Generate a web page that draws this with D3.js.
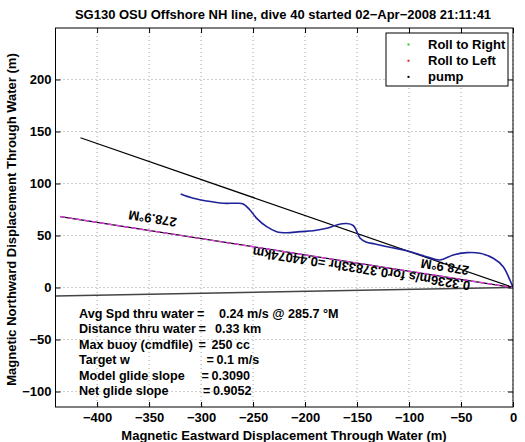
<!DOCTYPE html>
<html><head><meta charset="utf-8">
<script src="https://cdn.jsdelivr.net/npm/d3@7"></script>
<style>
html,body{margin:0;padding:0;background:#fff;}
text{font-family:"Liberation Sans",Arial,Helvetica,sans-serif;font-weight:bold;}
</style></head>
<body><svg id="c" width="525" height="442"></svg>
<script>
// ---- data ----
const titleText = "SG130 OSU Offshore NH line, dive 40 started 02−Apr−2008 21:11:41";
const xLabel = "Magnetic Eastward Displacement Through Water (m)";
const yLabel = "Magnetic Northward Displacement Through Water (m)";
const xTicks = [-400, -350, -300, -250, -200, -150, -100, -50, 0];
const yTicks = [-100, -50, 0, 50, 100, 150, 200];
const xDomain = [-440, 0];
const yDomain = [-114.9, 249.5];

// glider track (east, north) in metres
const trackEast  = [-319.6,-307.5,-294.6,-278.7,-265.8,-259.4,-253.0,-246.5,-236.9,-227.3,-217.7,-204.9,-192.1,-179.2,-169.6,-160.0,-153.7,-150.4,-147.2,-141.4,-132.8,-118.4,-102.3,-83.1,-70.3,-57.5,-44.6,-31.8,-19.0,-9.4,-3.0,0];
const trackNorth = [89.9,85.8,83.2,81.0,81.0,80.3,74.5,66.5,58.5,53.7,52.7,53.7,54.6,56.9,60.1,61.5,59.6,54.3,47.6,43.8,41.8,38.7,35.4,29.6,26.4,31.3,33.5,32.9,28.1,20.0,7.2,0];

const blackLineEast = [-416, 0],   blackLineNorth = [144, 0];
const netLineEast   = [-435.4, 0], netLineNorth   = [68.2, 0];
const curLineEast   = [-440, 0],   curLineNorth   = [-8.2, 0];

const legendLabels = ["Roll to Right", "Roll to Left", "pump"];
const legendColors = ["#22cc22", "#dd2222", "#000000"];

const lineLabels = ["278.9°M", "278.9°M", "0.3236m/s for0.37833hr =0.44074km"];
const lineLabelEast  = [-346.7, -65.5, -145.8];
const lineLabelNorth = [66.2, 19.7, 17.8];
const lineLabelRot = 188.9;

const statLabels = ["Avg Spd thru water", "Distance thru water", "Max buoy (cmdfile)", "Target w", "Model glide slope", "Net glide slope"];
const statValues = ["0.24 m/s @ 285.7 °M", "0.33 km", "250 cc", "0.1 m/s", "0.3090", "0.9052"];

// ---- drawing ----
const FS = 13;
const svg = d3.select("#c");
const L = 55.5, R = 513, T = 28, B = 407;
const x = d3.scaleLinear().domain(xDomain).range([L, R]);
const y = d3.scaleLinear().domain(yDomain).range([B, T]);

// grid
const g = svg.append("g");
g.selectAll(".gx").data(xTicks).enter().append("line")
  .attr("x1", d => x(d)).attr("x2", d => x(d)).attr("y1", T).attr("y2", B)
  .attr("stroke", "#888").attr("stroke-width", 0.8).attr("stroke-dasharray", "1,3");
g.selectAll(".gy").data(yTicks).enter().append("line")
  .attr("y1", d => y(d)).attr("y2", d => y(d)).attr("x1", L).attr("x2", R)
  .attr("stroke", "#888").attr("stroke-width", 0.8).attr("stroke-dasharray", "1,3");

// axes with inner ticks
const fmt = d => d3.format("")(d).replace("-", "−");
const axB = d3.axisBottom(x).tickValues(xTicks).tickSizeInner(-5).tickSizeOuter(0).tickPadding(6).tickFormat(fmt);
const axL = d3.axisLeft(y).tickValues(yTicks).tickSizeInner(-5).tickSizeOuter(0).tickPadding(4).tickFormat(fmt);
const axT = d3.axisTop(x).tickValues(xTicks).tickSizeInner(-5).tickSizeOuter(0).tickFormat("");
const axR = d3.axisRight(y).tickValues(yTicks).tickSizeInner(-5).tickSizeOuter(0).tickFormat("");
function style(sel){
  sel.select(".domain").remove();
  sel.selectAll("line").attr("stroke", "#000");
  sel.selectAll("text").attr("font-size", FS).attr("font-weight", "bold").attr("fill", "#000")
     .attr("font-family", "Liberation Sans, Arial, sans-serif");
}
svg.append("g").attr("transform", `translate(0,${B})`).call(axB).call(style);
svg.append("g").attr("transform", `translate(${L},0)`).call(axL).call(style);
svg.append("g").attr("transform", `translate(0,${T})`).call(axT).call(style);
svg.append("g").attr("transform", `translate(${R},0)`).call(axR).call(style);

// clip
svg.append("clipPath").attr("id", "clip").append("rect").attr("x", L).attr("y", T).attr("width", R - L).attr("height", B - T);
const plot = svg.append("g").attr("clip-path", "url(#clip)");
const line = d3.line().x(d => x(d[0])).y(d => y(d[1]));

plot.append("path").datum(d3.zip(curLineEast, curLineNorth)).attr("d", line)
  .attr("fill", "none").attr("stroke", "#444").attr("stroke-width", 1.6);
plot.append("path").datum(d3.zip(blackLineEast, blackLineNorth)).attr("d", line)
  .attr("fill", "none").attr("stroke", "#000").attr("stroke-width", 1.2);
plot.append("path").datum(d3.zip(netLineEast, netLineNorth)).attr("d", line)
  .attr("fill", "none").attr("stroke", "#000").attr("stroke-width", 1.2);
plot.append("path").datum(d3.zip(netLineEast, netLineNorth)).attr("d", line)
  .attr("fill", "none").attr("stroke", "#e03ce0").attr("stroke-width", 1.4).attr("stroke-dasharray", "5,3");
plot.append("path").datum(d3.zip(trackEast, trackNorth)).attr("d", d3.line().curve(d3.curveCatmullRom).x(d => x(d[0])).y(d => y(d[1])))
  .attr("fill", "none").attr("stroke", "#1f2299").attr("stroke-width", 1.6);

// rotated line labels
svg.selectAll(".ll").data(lineLabels).enter().append("text")
  .attr("transform", (d, i) => `translate(${x(lineLabelEast[i])},${y(lineLabelNorth[i])}) rotate(${lineLabelRot})`)
  .attr("text-anchor", "middle").attr("dominant-baseline", "central")
  .attr("font-size", FS).attr("font-weight", "bold").attr("fill", "#000").text(d => d);

// stats text block
const statFS = 12.6;
const statY0 = 314, statDY = 15.4;
const eqX  = [197, 198.5, 198.5, 206.5, 201.5, 203];
const valX = [219, 215, 211.5, 216.5, 211.5, 213];
const st = svg.selectAll(".st").data(statLabels).enter().append("text")
  .attr("font-size", statFS).attr("font-weight", "bold").attr("fill", "#000")
  .attr("dominant-baseline", "central").attr("y", (d, i) => statY0 + i * statDY);
st.append("tspan").attr("x", 79).text(d => d);
st.append("tspan").attr("x", (d, i) => eqX[i]).text("=");
st.append("tspan").attr("x", (d, i) => valX[i]).text((d, i) => statValues[i]);

// frame
svg.append("rect").attr("x", L).attr("y", T).attr("width", R - L).attr("height", B - T)
  .attr("fill", "none").attr("stroke", "#000").attr("stroke-width", 1);

// legend
const lg = svg.append("g");
lg.append("rect").attr("x", 386).attr("y", 33).attr("width", 122).attr("height", 53)
  .attr("fill", "#fff").attr("stroke", "#000").attr("stroke-width", 1);
legendLabels.forEach((lab, i) => {
  const cy = 44.5 + i * 16.2;
  lg.append("rect").attr("x", 407.5).attr("y", cy - 1).attr("width", 2).attr("height", 2).attr("fill", legendColors[i]);
  lg.append("text").attr("x", 428).attr("y", cy).attr("dominant-baseline", "central")
    .attr("font-size", FS).attr("font-weight", "bold").text(lab);
});

// title & labels
svg.append("text").attr("x", 283).attr("y", 14).attr("text-anchor", "middle").attr("dominant-baseline", "central")
  .attr("font-size", FS).attr("font-weight", "bold").text(titleText);
svg.append("text").attr("x", 284).attr("y", 435).attr("text-anchor", "middle").attr("dominant-baseline", "central")
  .attr("font-size", FS).attr("font-weight", "bold").text(xLabel);
svg.append("text").attr("transform", `translate(11,${(T + B) / 2 + 2}) rotate(-90)`).attr("text-anchor", "middle")
  .attr("dominant-baseline", "central").attr("font-size", FS).attr("font-weight", "bold").text(yLabel);
</script></body></html>
